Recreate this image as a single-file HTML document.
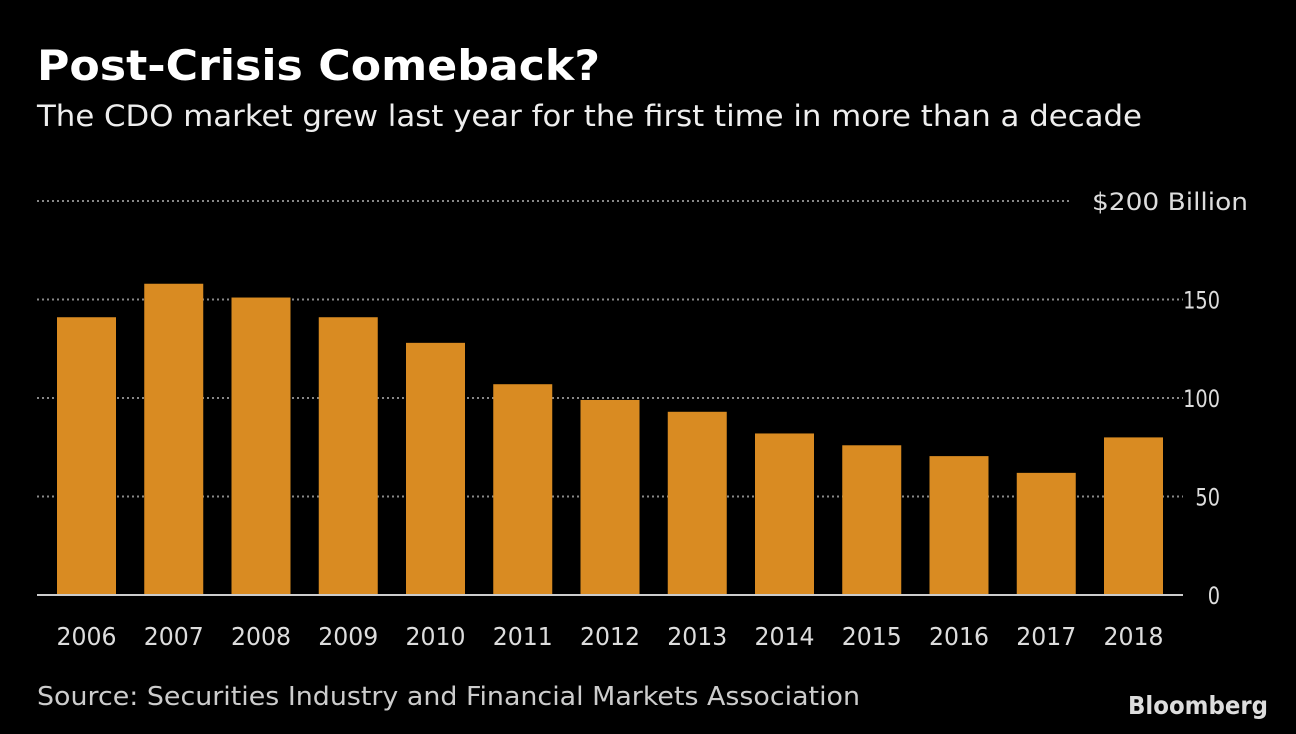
<!DOCTYPE html>
<html><head><meta charset="utf-8"><style>
body{margin:0;background:#000;width:1296px;height:734px;overflow:hidden}
svg{position:absolute;left:0;top:0}
</style></head><body>
<svg id="chart" width="1296" height="734" font-family="DejaVu Sans, Liberation Sans, sans-serif">
<text x="37" y="80" font-size="42" font-weight="bold" fill="#fff" textLength="563" lengthAdjust="spacingAndGlyphs">Post-Crisis Comeback?</text>
<text x="37" y="126" font-size="29" fill="#eee" textLength="1105" lengthAdjust="spacingAndGlyphs">The CDO market grew last year for the first time in more than a decade</text>
<text x="37" y="705" font-size="26" fill="#ccc" textLength="823" lengthAdjust="spacingAndGlyphs">Source: Securities Industry and Financial Markets Association</text>
<text x="1128" y="714" font-size="25" font-weight="bold" fill="#ddd" textLength="140" lengthAdjust="spacingAndGlyphs">Bloomberg</text>
</svg>
<script>
const years=["2006","2007","2008","2009","2010","2011","2012","2013","2014","2015","2016","2017","2018"];
const values=[141,158,151,141,128,107,99,93,82,76,70.5,62,80];
const ticks=[0,50,100,150,200];
const tickLabels=["0","50","100","150","$200 Billion"];
const svg=document.getElementById('chart');
const NS='http://www.w3.org/2000/svg';
const y0=595,pxPer=1.97;
const yS=v=>y0-v*pxPer;
const xC=i=>86.5+i*87.25;
const bw=59;
function mk(t,a){const e=document.createElementNS(NS,t);for(const k in a)e.setAttribute(k,a[k]);svg.appendChild(e);return e;}
ticks.forEach((t,i)=>{
  const y=yS(t);
  if(t>0){
    const l=mk('line',{x1:37,x2:t===200?1072:1183,y1:y,y2:y,stroke:'#888','stroke-width':2,'stroke-dasharray':'2,3'});
    
    
  }
  const lab=tickLabels[i];
  const attrs={x:t===200?1248:1220,y:y+9,'text-anchor':'end','font-size':24,fill:'#ddd'};
  attrs.textLength=t===200?156:lab.length*12.3;
  attrs.lengthAdjust='spacingAndGlyphs';
  const tx=mk('text',attrs);
  tx.textContent=lab;
  
  
});
values.forEach((v,i)=>{
  const r=mk('rect',{x:xC(i)-bw/2,y:yS(v),width:bw,height:v*pxPer,fill:'#d98b22'});
  
  
  const tx=mk('text',{x:xC(i)-30,y:645,'font-size':25,fill:'#ddd',textLength:60,lengthAdjust:'spacingAndGlyphs'});
  tx.textContent=years[i];
  
  
});
const b=mk('line',{x1:37,x2:1183,y1:y0,y2:y0,stroke:'#ccc','stroke-width':2});


</script>
</body></html>
